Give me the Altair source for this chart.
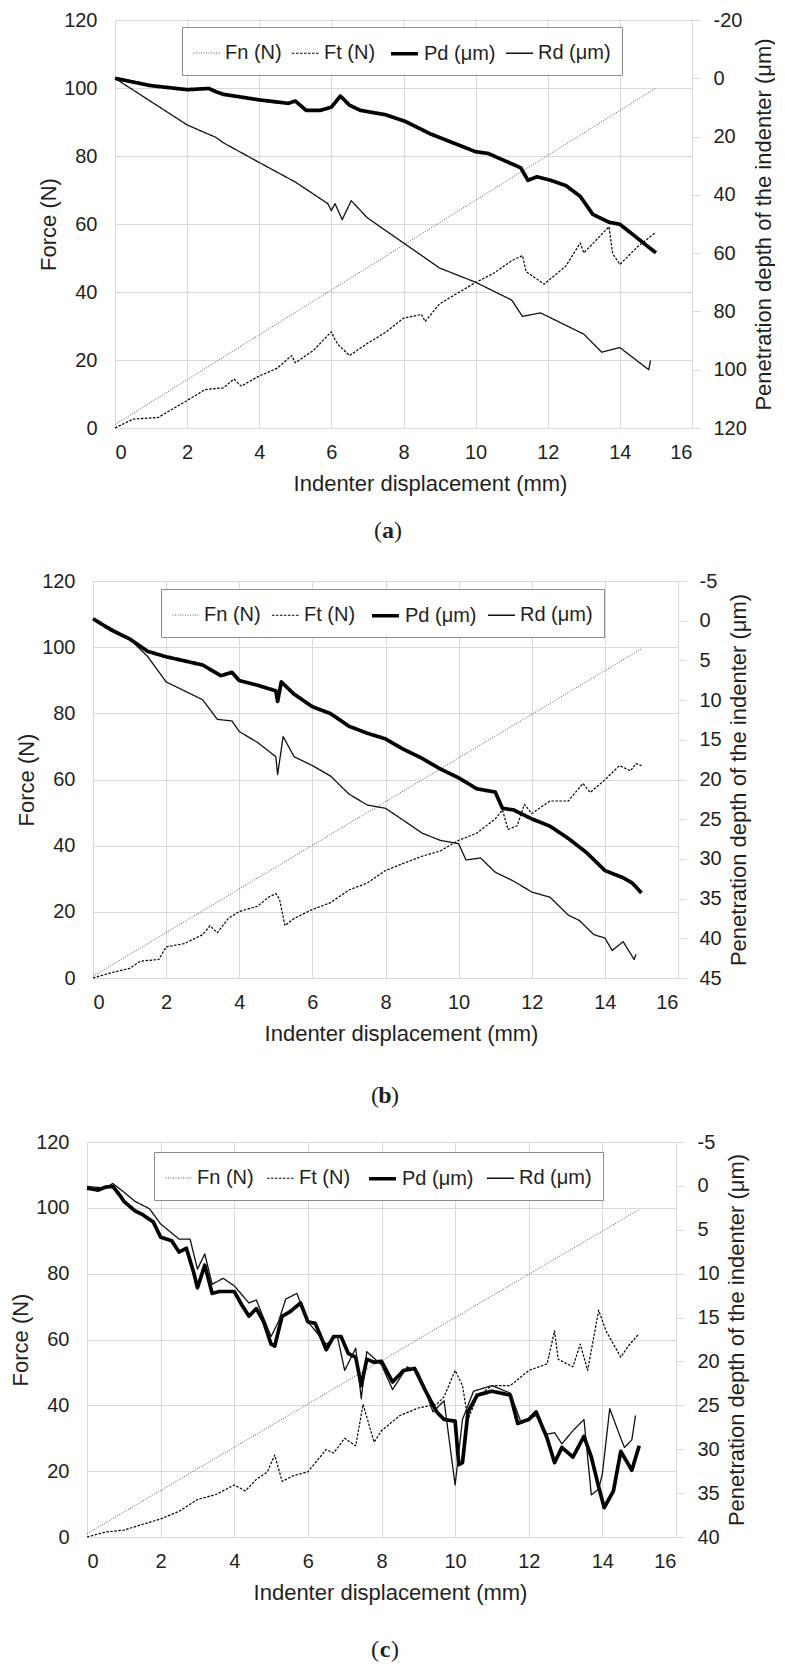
import altair as alt
import pandas as pd

FONT = "Liberation Sans"
SERIF = "Liberation Serif"
TXT = "#1f1f1f"
GRID = "#d9d9d9"

x_ticks = list(range(0, 17, 2))
force_ticks = list(range(0, 121, 20))
series_names = ["Fn (N)", "Ft (N)", "Pd (μm)", "Rd (μm)"]

# ---------------- panel (a) ----------------
a_fn_x = [0, 15]
a_fn_y = [1, 100]
a_ft_x = [0, 0.5, 1.2, 2, 2.5, 3, 3.3, 3.5, 4, 4.5, 4.9, 5.0, 5.5, 6.0, 6.1, 6.2, 6.5, 7, 7.5, 8,
          8.5, 8.6, 9, 9.5, 10, 10.5, 11, 11.3, 11.4, 11.9, 12.5, 12.9, 13.0, 13.5, 13.7, 13.8, 14.0, 14.5, 15]
a_ft_y = [0, 2.6, 3.1, 8.1, 11.3, 11.8, 14.4, 12.3, 15.3, 17.6, 21.3, 19.2, 22.8, 28.3, 26, 24.4, 21.3, 24.9, 28.1, 32.3,
          33.4, 31.3, 36.5, 39.7, 42.8, 45.5, 49.2, 50.7, 46, 42.3, 47.6, 54.4, 51.5, 57, 59.2, 51.3, 48.1, 53.4, 57.6]
a_pd_x = [0, 0.98, 2.0, 2.6, 2.8, 3.0, 4.0, 4.8, 5.0, 5.3, 5.7, 6.0, 6.25, 6.5, 6.8, 7.5, 8.05, 8.75, 10, 10.35,
          11.25, 11.45, 11.7, 12.08, 12.5, 12.9, 13.25, 13.7, 14.0, 15.0]
a_pd_y = [0, 2.5, 3.9, 3.5, 4.6, 5.5, 7.4, 8.6, 7.8, 11.0, 11.0, 9.9, 6.1, 9.2, 11.0, 12.5, 14.8, 19.1, 25.2, 25.8,
          30.7, 35.0, 33.8, 35.0, 36.8, 40.5, 46.7, 49.4, 50.1, 59.9]
a_rd_x = [0, 1, 2, 2.8, 3, 4, 5, 5.9, 6.0, 6.1, 6.3, 6.55, 7, 8, 9, 10, 11, 11.3, 11.8, 12, 13, 13.5, 14, 14.8, 14.85]
a_rd_y = [0, 8, 16, 20.3, 22.1, 28.9, 35.6, 43, 45.4, 43, 48.5, 42, 47.9, 56.5, 65.1, 70, 76.1, 81.7, 80.5, 81.7,
          87.8, 94, 92.4, 100, 96.8]
a_depth_domain = [-20, 120]
a_depth_ticks = list(range(-20, 121, 20))

# ---------------- panel (b) ----------------
b_fn_x = [0, 15]
b_fn_y = [0.5, 99.5]
b_ft_x = [0, 0.5, 1.0, 1.3, 1.8, 2, 2.5, 3, 3.2, 3.4, 3.7, 4, 4.5, 4.8, 5.0, 5.1, 5.25, 5.5, 6, 6.5,
          7, 7.5, 8, 8.5, 9, 9.5, 10, 10.5, 11, 11.2, 11.35, 11.6, 11.8, 12.0, 12.5, 13, 13.4, 13.6, 14, 14.4,
          14.7, 14.85, 15]
b_ft_y = [0, 1.6, 2.9, 5.1, 5.6, 9.4, 10.4, 13.1, 15.8, 13.7, 18, 20.1, 21.7, 24.4, 25.5, 23.9, 15.8, 18, 20.7, 22.8,
          26.6, 28.7, 32.5, 34.7, 36.8, 38.4, 41.6, 43.8, 48.1, 50.8, 44.9, 46, 52.5, 49.7, 53.5, 53.5, 58.8, 56.1, 59.9, 64.2,
          62.6, 64.8, 64.2]
b_pd_x = [0, 0.5, 1, 1.5, 2, 3, 3.5, 3.8, 4, 4.5, 5.0, 5.05, 5.15, 5.5, 6, 6.5, 7, 7.5, 8, 8.5,
          9, 9.5, 10, 10.5, 11, 11.2, 11.5, 12, 12.5, 13, 13.5, 14, 14.5, 14.75, 15]
b_pd_y = [-0.25, 1.17, 2.29, 3.87, 4.54, 5.58, 6.92, 6.5, 7.54, 8.13, 8.83, 10.17, 7.71, 9.25, 10.83, 11.71, 13.29, 14.17, 14.88, 16.21,
          17.33, 18.67, 19.79, 21.17, 21.58, 23.63, 23.83, 24.96, 25.88, 27.42, 29.21, 31.46, 32.38, 33.04, 34.29]
b_rd_x = [0, 0.5, 1, 1.5, 2, 2.5, 3, 3.4, 3.8, 4, 4.5, 5.0, 5.05, 5.2, 5.5, 6, 6.5, 7, 7.5, 8,
          8.5, 9, 9.5, 10, 10.2, 10.6, 11, 11.5, 12, 12.5, 13, 13.3, 13.7, 14, 14.2, 14.5, 14.8, 14.85]
b_rd_y = [-0.25, 0.96, 2.29, 4.54, 7.71, 8.83, 9.96, 12.42, 12.63, 13.96, 15.33, 17.13, 19.38, 14.58, 17.13, 18.25, 19.58, 21.83, 23.21, 23.63,
          25.17, 26.75, 27.67, 28.08, 30.13, 29.88, 31.67, 32.79, 34.17, 34.83, 37.08, 37.75, 39.54, 39.96, 41.54, 40.42, 42.67, 42]
b_depth_domain = [-5, 45]
b_depth_ticks = list(range(-5, 46, 5))

# ---------------- panel (c) ----------------
c_fn_x = [0, 15]
c_fn_y = [1, 99.5]
c_ft_x = [0, 0.5, 1, 1.5, 2, 2.5, 3, 3.5, 4, 4.3, 4.6, 4.9, 5.1, 5.3, 5.6, 6, 6.5, 6.7, 7, 7.3,
          7.5, 7.8, 8, 8.5, 9, 9.5, 9.7, 10.0, 10.2, 10.35, 10.6, 11.0, 11.5, 12.0, 12.5, 12.7, 12.8, 13.2, 13.4, 13.6,
          13.9, 14.1, 14.5, 14.7, 15]
c_ft_y = [0, 1.5, 2.1, 3.8, 5.5, 7.8, 11.4, 12.9, 15.8, 14, 17.5, 19.8, 24.9, 16.9, 18.6, 19.8, 26.6, 25.5, 30, 27.7,
          40.3, 28.8, 32.3, 36.9, 39.2, 40.3, 42.6, 50.6, 46, 35.7, 42.6, 46, 46, 50.6, 52.6, 62.6, 54, 51.7, 58.6, 50.6,
          68.9, 62.6, 54.6, 58, 61.8]
c_pd_x = [0, 0.3, 0.5, 0.7, 0.9, 1.0, 1.3, 1.5, 1.8, 2.0, 2.3, 2.5, 2.7, 2.9, 3.0, 3.2, 3.4, 3.6, 4.0, 4.2,
          4.4, 4.6, 4.8, 5.0, 5.1, 5.3, 5.5, 5.8, 6.0, 6.2, 6.5, 6.7, 6.9, 7.1, 7.3, 7.45, 7.6, 7.8, 8.0, 8.3,
          8.6, 8.9, 9.2, 9.5, 9.7, 10.0, 10.1, 10.2, 10.35, 10.6, 11.0, 11.5, 11.7, 12.0, 12.2, 12.5, 12.7, 12.9, 13.2, 13.5,
          13.7, 13.9, 14.05, 14.3, 14.5, 14.8, 15.0]
c_pd_y = [0.25, 0.48, 0.14, 0.06, 1.11, 1.75, 2.84, 3.25, 4.11, 5.84, 6.25, 7.53, 7.11, 9.89, 11.61, 9.03, 12.25, 12.03, 12.03, 13.53,
          14.84, 13.98, 15.48, 18.03, 18.25, 14.84, 14.39, 13.34, 15.48, 15.66, 18.66, 17.16, 17.16, 19.11, 19.53, 22.75, 19.75, 20.09, 19.98, 22.34,
          21.03, 20.8, 23.39, 25.75, 26.61, 26.8, 31.75, 31.53, 25.75, 23.84, 23.39, 23.84, 27.06, 26.61, 25.75, 28.75, 31.53, 29.8, 30.89, 28.53,
          30.89, 34.3, 36.66, 34.75, 30.25, 32.39, 29.61]
c_rd_x = [0, 0.5, 0.7, 1.0, 1.3, 1.7, 2.0, 2.5, 2.8, 3.0, 3.2, 3.4, 3.7, 4.0, 4.4, 4.6, 5.0, 5.2, 5.4, 5.7,
          6.0, 6.5, 6.8, 7.0, 7.3, 7.45, 7.6, 8.0, 8.3, 8.7, 9.0, 9.4, 9.7, 10.0, 10.2, 10.5, 11.0, 11.5, 11.8, 12.2,
          12.5, 12.7, 12.9, 13.2, 13.5, 13.7, 13.9, 14.0, 14.2, 14.5, 14.6, 14.8, 14.9]
c_rd_y = [0.06, 0.25, -0.28, 0.7, 1.75, 2.61, 4.34, 6.06, 6.06, 9.48, 7.75, 11.2, 10.53, 11.39, 13.34, 13.0, 17.16, 15.48, 12.89, 12.25,
          15.48, 18.03, 17.09, 21.03, 18.48, 24.25, 18.89, 20.39, 23.2, 20.61, 21.25, 25.75, 24.48, 34.08, 26.61, 23.39, 22.75, 23.61, 27.06, 26.16,
          28.3, 28.11, 29.39, 27.89, 26.61, 35.2, 34.53, 32.8, 25.38, 28.75, 29.8, 28.94, 26.16]
c_depth_domain = [-5, 40]
c_depth_ticks = list(range(-5, 41, 5))

IND = dict(color="independent", strokeDash="independent", strokeWidth="independent")
ONE = alt.Data(values=[{"k": 0}])
LEFT_EXT = 86


def long_df(pairs, ycol):
    rows = []
    for name, xs, ys in pairs:
        for i, (xv, yv) in enumerate(zip(xs, ys)):
            rows.append({"series": name, "x": xv, ycol: yv, "i": i})
    return pd.DataFrame(rows)


def make_panel(fn, ft, pdd, rd, depth_domain, depth_ticks, g, letter):
    legend = alt.Legend(
        orient="none", legendX=g["lx"], legendY=g["ly"], direction="horizontal",
        symbolType="stroke", symbolSize=729, labelFont=FONT, labelFontSize=20,
        labelColor=TXT, labelOffset=4, columnPadding=g["cp"], padding=11,
        strokeColor="#8c8c8c", fillColor="white", labelLimit=0,
    )
    enc_common = dict(
        color=alt.Color("series:N", title=None, legend=legend,
                        scale=alt.Scale(domain=series_names,
                                        range=["#5e5e5e", "#000000", "#000000", "#111111"])),
        strokeDash=alt.StrokeDash("series:N", title=None, legend=legend,
                                  scale=alt.Scale(domain=series_names,
                                                  range=[[1, 1.5], [2.5, 1.5], [1, 0], [1, 0]])),
        strokeWidth=alt.StrokeWidth("series:N", title=None, legend=legend,
                                    scale=alt.Scale(type="ordinal", domain=series_names,
                                                    range=[1, 1.2, 3.7, 1.3])),
        order=alt.Order("i:Q"),
    )
    xenc = alt.X("x:Q", scale=alt.Scale(domain=[0, 16], nice=False),
                 axis=alt.Axis(values=x_ticks, grid=True, ticks=False, tickSize=0, domain=False,
                               labelPadding=14, title="Indenter displacement (mm)",
                               titlePadding=11, titleX=g["tx"]))
    left_df = long_df([("Fn (N)", fn[0], fn[1]), ("Ft (N)", ft[0], ft[1])], "force")
    right_df = long_df([("Pd (μm)", pdd[0], pdd[1]), ("Rd (μm)", rd[0], rd[1])], "depth")

    left = alt.Chart(left_df).mark_line(strokeCap="butt", strokeJoin="round").encode(
        x=xenc,
        y=alt.Y("force:Q", scale=alt.Scale(domain=[0, 120], nice=False),
                axis=alt.Axis(orient="left", values=force_ticks, grid=True, ticks=False, tickSize=0,
                              domain=False, labelPadding=18, title="Force (N)", titlePadding=3)),
        **enc_common,
    )
    right = alt.Chart(right_df).mark_line(strokeCap="butt", strokeJoin="round").encode(
        x=xenc,
        y=alt.Y("depth:Q", scale=alt.Scale(domain=depth_domain, reverse=True, nice=False, zero=False),
                axis=alt.Axis(orient="right", values=depth_ticks, grid=False, ticks=True, tickSize=8,
                              tickColor=GRID, domain=False, labelPadding=13,
                              labelExpr="'' + datum.value",
                              title="Penetration depth of the indenter (μm)", titleAngle=270,
                              titleBaseline="top", titlePadding=7)),
        **enc_common,
    )
    bbox = alt.Chart(ONE).mark_rule(strokeOpacity=0, opacity=0).encode(
        x=alt.value(-LEFT_EXT), x2=alt.value(-LEFT_EXT + 1),
        y=alt.value(-g["top"]), y2=alt.value(g["bottom"]))
    cx, cy = g["px"], g["py"]
    lab_l = alt.Chart(ONE).mark_text(text="(", font=SERIF, fontSize=24, align="right",
                                     baseline="middle", color=TXT).encode(
        x=alt.value(cx - 6), y=alt.value(cy))
    lab_m = alt.Chart(ONE).mark_text(text=letter, font=SERIF, fontSize=24, fontWeight="bold",
                                     align="center", baseline="middle", color=TXT).encode(
        x=alt.value(cx), y=alt.value(cy))
    lab_r = alt.Chart(ONE).mark_text(text=")", font=SERIF, fontSize=24, align="left",
                                     baseline="middle", color=TXT).encode(
        x=alt.value(cx + 6), y=alt.value(cy))
    panel = alt.layer(bbox, left, right, lab_l, lab_m, lab_r).resolve_scale(y="independent").properties(
        width=g["w"], height=g["h"])
    # an empty spacer on the left sets this panel's own left offset
    spacer = alt.Chart(ONE).mark_rule(strokeOpacity=0, opacity=0).encode(
        x=alt.value(0), x2=alt.value(1), y=alt.value(0)).properties(width=g["left"] - LEFT_EXT, height=1)
    return alt.hconcat(spacer, panel, spacing=0).resolve_scale(**IND).resolve_legend(**IND)


ga = dict(w=577, h=408, left=115, top=20, bottom=540, lx=67, ly=7, tx=315, px=273, py=511, cp=7)
gb = dict(w=585, h=397, left=93, top=21, bottom=539, lx=68, ly=8, tx=308, px=292, py=515, cp=8)
gc = dict(w=589, h=395, left=87, top=22, bottom=540, lx=67, ly=10, tx=303, px=298, py=508, cp=10)

pa = make_panel((a_fn_x, a_fn_y), (a_ft_x, a_ft_y), (a_pd_x, a_pd_y), (a_rd_x, a_rd_y),
                a_depth_domain, a_depth_ticks, ga, "a")
pb = make_panel((b_fn_x, b_fn_y), (b_ft_x, b_ft_y), (b_pd_x, b_pd_y), (b_rd_x, b_rd_y),
                b_depth_domain, b_depth_ticks, gb, "b")
pc = make_panel((c_fn_x, c_fn_y), (c_ft_x, c_ft_y), (c_pd_x, c_pd_y), (c_rd_x, c_rd_y),
                c_depth_domain, c_depth_ticks, gc, "c")

chart = alt.vconcat(pa, pb, pc, spacing=0).resolve_scale(**IND).resolve_legend(**IND).properties(
    padding=0, background="white"
).configure_view(stroke=None).configure_axis(
    labelFont=FONT, titleFont=FONT, labelFontSize=20, titleFontSize=22, labelColor=TXT,
    titleColor=TXT, titleFontWeight="normal", gridColor=GRID, gridWidth=1,
)

chart.save("out.html", embed_options={"renderer": "svg", "actions": False})
